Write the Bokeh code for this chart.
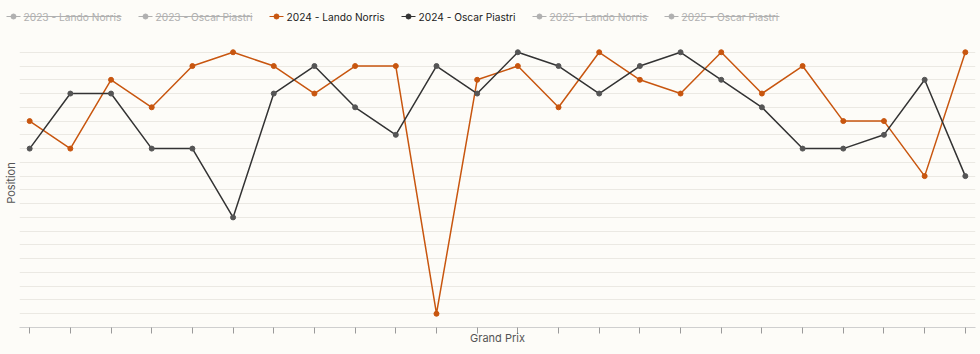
from bokeh.plotting import figure
from bokeh.layouts import column
from bokeh.models import Range1d, FixedTicker, SingleIntervalTicker, ColumnDataSource, CustomJSTickFormatter
from bokeh.core.properties import value
from bokeh.embed import file_html
from bokeh.resources import INLINE

# ---- data ----
rounds = list(range(1, 25))
norris_2024 = [6, 8, 3, 5, 2, 1, 2, 4, 2, 2, 20, 3, 2, 5, 1, 3, 4, 1, 4, 2, 6, 6, 10, 1]
piastri_2024 = [8, 4, 4, 8, 8, 13, 4, 2, 5, 7, 2, 4, 1, 2, 4, 2, 1, 3, 5, 8, 8, 7, 3, 10]
series_names = ["2023 - Lando Norris", "2023 - Oscar Piastri", "2024 - Lando Norris",
                "2024 - Oscar Piastri", "2025 - Lando Norris", "2025 - Oscar Piastri"]
series_shown = [False, False, True, True, False, False]

BG = "#fdfcf8"
ORANGE = "#c8560f"
DARK = "#333333"
DARK_PT = "#555555"
HIDDEN = "#b0b0b0"
FONT = "Inter"

# ---- legend strip ----
leg = figure(width=980, height=34, x_range=Range1d(0, 980), y_range=Range1d(34, 0),
             output_backend="svg", toolbar_location=None, min_border=0,
             background_fill_color=BG, border_fill_color=BG, outline_line_color=None)
leg.frame_align = False
leg.axis.visible = False
leg.grid.visible = False

item_x = [6, 138, 269, 401, 532, 664]
text_w = [98, 97, 98, 97, 99, 98]
yc = 16
colors = []
for nm, shown in zip(series_names, series_shown):
    if not shown:
        colors.append(HIDDEN)
    elif "Lando" in nm:
        colors.append(ORANGE)
    else:
        colors.append(DARK)

for x0, nm, shown, c, w in zip(item_x, series_names, series_shown, colors, text_w):
    leg.segment(x0=[x0], y0=[yc], x1=[x0 + 14], y1=[yc], line_color=c, line_width=1.2)
    leg.scatter(x=[x0 + 7], y=[yc], size=5, fill_color=c, line_color=c)
    leg.text(x=[x0 + 17], y=[yc], text=[nm], text_font=value(FONT), text_font_size="10.2px",
             text_color=(c if not shown else "#222222"), text_baseline="middle", text_align="left")
    if not shown:
        leg.segment(x0=[x0 + 17], y0=[yc], x1=[x0 + 17 + w], y1=[yc], line_color=c, line_width=1)

# ---- main chart ----
p = figure(width=980, height=320, output_backend="svg", toolbar_location=None,
           x_range=Range1d(0.75, 24.25), y_range=Range1d(21, 0),
           background_fill_color=BG, border_fill_color=BG, outline_line_color=None,
           min_border_left=19, min_border_right=5, min_border_top=4, min_border_bottom=27)
p.frame_align = False

src_n = ColumnDataSource(dict(x=rounds, y=norris_2024))
src_p = ColumnDataSource(dict(x=rounds, y=piastri_2024))
p.line("x", "y", source=src_n, line_color=ORANGE, line_width=1.5)
p.scatter("x", "y", source=src_n, size=5, fill_color=ORANGE, line_color=ORANGE)
p.line("x", "y", source=src_p, line_color=DARK, line_width=1.5)
p.scatter("x", "y", source=src_p, size=5, fill_color=DARK_PT, line_color=DARK_PT)

blank = CustomJSTickFormatter(code="return '';")

p.xgrid.visible = False
p.ygrid.grid_line_color = "#ebe9e3"
p.ygrid.grid_line_width = 1
p.yaxis.ticker = SingleIntervalTicker(interval=1)
p.yaxis.formatter = blank
p.yaxis.axis_line_color = None
p.yaxis.major_tick_line_color = None
p.yaxis.major_tick_in = 0
p.yaxis.major_tick_out = 0
p.yaxis.minor_tick_line_color = None
p.yaxis.minor_tick_in = 0
p.yaxis.minor_tick_out = 0
p.yaxis.major_label_standoff = 0
p.yaxis.axis_label = "Position"
p.yaxis.axis_label_standoff = 2
p.yaxis.axis_label_text_font = FONT
p.yaxis.axis_label_text_font_size = "11px"
p.yaxis.axis_label_text_font_style = "normal"
p.yaxis.axis_label_text_color = "#555555"

p.xaxis.ticker = FixedTicker(ticks=rounds)
p.xaxis.formatter = blank
p.xaxis.major_label_standoff = 0
p.xaxis.major_tick_in = 0
p.xaxis.major_tick_out = 6
p.xaxis.major_tick_line_color = "#9a9a9a"
p.xaxis.minor_tick_line_color = None
p.xaxis.axis_line_color = "#cfcfcf"
p.xaxis.axis_label = "Grand Prix"
p.xaxis.axis_label_standoff = -3
p.xaxis.axis_label_text_font = FONT
p.xaxis.axis_label_text_font_size = "11px"
p.xaxis.axis_label_text_font_style = "normal"
p.xaxis.axis_label_text_color = "#555555"

layout = column(leg, p, spacing=0, styles={"background-color": BG})
open("out.html", "w").write(file_html(layout, INLINE))
